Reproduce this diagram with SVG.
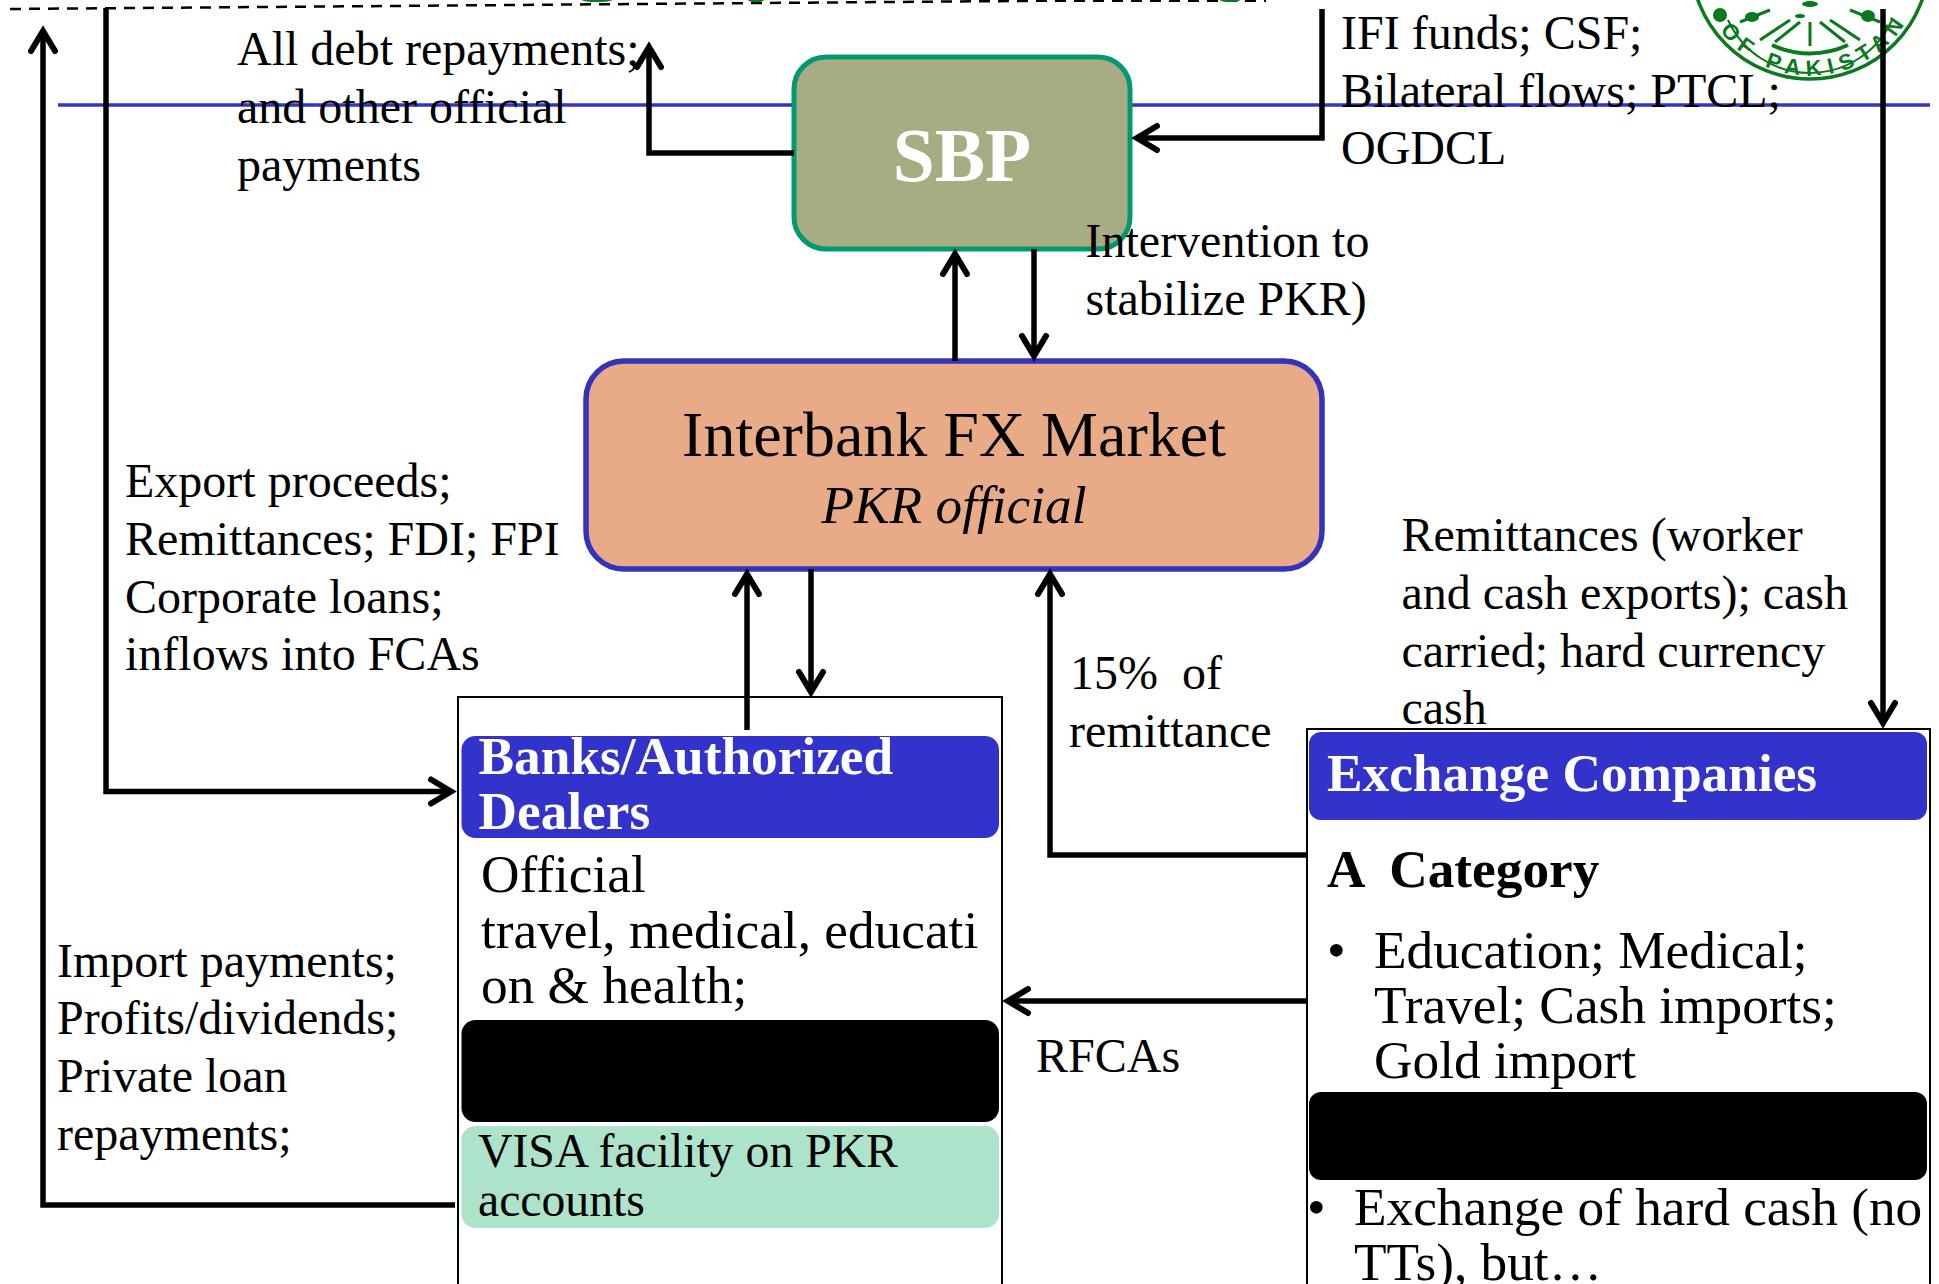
<svg xmlns="http://www.w3.org/2000/svg" width="1939" height="1284" viewBox="0 0 1939 1284">
<style>
text{font-family:"Liberation Serif","Times New Roman",serif;fill:#000}
.t{font-size:48px}
.b{font-size:53.3px}
.h{font-size:53.3px;font-weight:bold;fill:#fff}
.c{fill:none;stroke:#000;stroke-width:5.5}
.g{fill:#0b7a1e}
.s{fill:none;stroke:#0b7a1e}
</style>
<defs>
<marker id="a" markerUnits="userSpaceOnUse" markerWidth="40" markerHeight="40" refX="26" refY="20" orient="auto"><path d="M6 8L26 20L6 32" fill="none" stroke="#000" stroke-width="6" stroke-linecap="round" stroke-linejoin="miter"/></marker>
<path id="arc" d="M1711 17A113 113 0 0 0 1909 17"/>
</defs>
<rect width="1939" height="1284" fill="#fff"/>
<g id="rule"><line x1="58" y1="105" x2="1930" y2="105" stroke="#3333cc" stroke-width="3.5"/></g>
<g id="top-edge">
<path d="M10 9L1040 0.8H1266" fill="none" stroke="#000" stroke-width="2.5" stroke-dasharray="11 8"/>
<ellipse class="g" cx="597" cy="0" rx="15" ry="2"/><ellipse class="g" cx="756" cy="0" rx="8" ry="2"/><ellipse class="g" cx="1230" cy="0" rx="10" ry="2"/>
</g>
<g id="seal">
<circle class="s" cx="1810" cy="-40" r="119" stroke-width="3.5"/>
<path class="s" d="M1728 20A90 90 0 0 0 1892 20" stroke-width="2"/>
<path class="s" d="M1772 45A90 90 0 0 0 1848 45" stroke-width="4"/>
<path class="s" stroke-width="3" d="M1810 22V46M1800 22L1775 42M1820 22L1845 42M1790 20L1760 40M1830 20L1860 40M1740 22L1770 10M1880 22L1850 10"/>
<ellipse class="g" cx="1720" cy="15" rx="7" ry="7"/><ellipse class="g" cx="1752" cy="17" rx="7" ry="5"/><ellipse class="g" cx="1800" cy="16" rx="5" ry="2"/><ellipse class="g" cx="1868" cy="16" rx="7" ry="6"/><ellipse class="g" cx="1810" cy="4" rx="8" ry="3"/>
<text font-size="22" font-weight="bold" letter-spacing="7" text-anchor="middle" style="font-family:'Liberation Sans',sans-serif;fill:#0b7a1e"><textPath href="#arc" startOffset="53%">OF PAKISTAN</textPath></text>
</g>
<g id="banks"><rect x="458" y="697" width="544" height="640" fill="#fff" stroke="#000" stroke-width="2"/>
<rect x="461.500" y="736" width="537.500" height="102" rx="14" fill="#3333cc"/>
<text class="h"><tspan x="478.500" y="774">Banks/Authorized</tspan><tspan x="478.500" y="829">Dealers</tspan></text>
<text class="b"><tspan x="481" y="892">Official</tspan><tspan x="481" y="948">travel, medical, educati</tspan><tspan x="481" y="1003">on &amp; health;</tspan></text>
<rect x="461.500" y="1020" width="537.500" height="102" rx="14" fill="#000"/>
<rect x="461.500" y="1126" width="537.500" height="102" rx="14" fill="#ade3ca"/>
<text style="font-size:47.7px"><tspan x="478" y="1167">VISA facility on PKR</tspan><tspan x="478" y="1216">accounts</tspan></text></g>
<g id="exchange"><rect x="1307" y="729" width="623" height="610" fill="#fff" stroke="#000" stroke-width="2"/>
<rect x="1309" y="732" width="618" height="88" rx="12" fill="#3333cc"/>
<text class="h" x="1327" y="791">Exchange Companies</text>
<text x="1327" y="887" font-size="53.3" font-weight="bold" xml:space="preserve">A  Category</text>
<text class="b"><tspan x="1327" y="968">•</tspan><tspan x="1374" y="968">Education; Medical;</tspan><tspan x="1374" y="1023">Travel; Cash imports;</tspan><tspan x="1374" y="1078">Gold import</tspan></text>
<rect x="1309" y="1092" width="618" height="88" rx="12" fill="#000"/>
<text class="b"><tspan x="1307" y="1225">•</tspan><tspan x="1354" y="1225">Exchange of hard cash (no</tspan><tspan x="1354" y="1280">TTs), but…</tspan></text></g>
<g id="sbp"><rect x="794" y="57" width="336" height="192" rx="32" fill="#a8ac82" stroke="#009970" stroke-width="5"/>
<text x="962" y="180.500" font-size="75.5" font-weight="bold" text-anchor="middle" style="fill:#fff">SBP</text></g>
<g id="interbank"><rect x="586" y="361" width="736" height="208" rx="38" fill="#e9aa87" stroke="#3333bb" stroke-width="5.5"/>
<text x="954" y="456" font-size="64" text-anchor="middle">Interbank FX Market</text>
<text x="954" y="523" font-size="53.3" font-style="italic" text-anchor="middle">PKR official</text></g>
<g id="connectors">
<path class="c" d="M794 153H649V47" marker-end="url(#a)"/>
<path class="c" d="M1322 9V138H1137" marker-end="url(#a)"/>
<path class="c" d="M955 361V254" marker-end="url(#a)"/>
<path class="c" d="M1034 249V356" marker-end="url(#a)"/>
<path class="c" d="M747 730V574" marker-end="url(#a)"/>
<path class="c" d="M811 569V692" marker-end="url(#a)"/>
<path class="c" d="M1308 855H1050V574" marker-end="url(#a)"/>
<path class="c" d="M1307 1001H1008" marker-end="url(#a)"/>
<path class="c" d="M1883 9V723" marker-end="url(#a)"/>
<path class="c" d="M106 8V791.500H451" marker-end="url(#a)"/>
<path class="c" d="M455 1205H43V31" marker-end="url(#a)"/>
</g>
<g id="labels">
<text class="t"><tspan x="237" y="65">All debt repayments;</tspan><tspan x="237" y="123">and other official</tspan><tspan x="237" y="181">payments</tspan></text>
<text class="t"><tspan x="1341" y="49">IFI funds; CSF;</tspan><tspan x="1341" y="107">Bilateral flows; PTCL;</tspan><tspan x="1341" y="164">OGDCL</tspan></text>
<text class="t"><tspan x="1085.500" y="257">Intervention to</tspan><tspan x="1085.500" y="315">stabilize PKR)</tspan></text>
<text class="t"><tspan x="125" y="497">Export proceeds;</tspan><tspan x="125" y="555">Remittances; FDI; FPI</tspan><tspan x="125" y="613">Corporate loans;</tspan><tspan x="125" y="670">inflows into FCAs</tspan></text>
<text class="t"><tspan x="1401.500" y="551">Remittances (worker</tspan><tspan x="1401.500" y="609">and cash exports); cash</tspan><tspan x="1401.500" y="667">carried; hard currency</tspan><tspan x="1401.500" y="724">cash</tspan></text>
<text class="t" xml:space="preserve"><tspan x="1070" y="689">15%  of</tspan><tspan x="1069" y="747">remittance</tspan></text>
<text class="t"><tspan x="57" y="977">Import payments;</tspan><tspan x="57" y="1034">Profits/dividends;</tspan><tspan x="57" y="1092">Private loan</tspan><tspan x="57" y="1150">repayments;</tspan></text>
<text class="t" x="1036" y="1072">RFCAs</text>
</g>
</svg>
